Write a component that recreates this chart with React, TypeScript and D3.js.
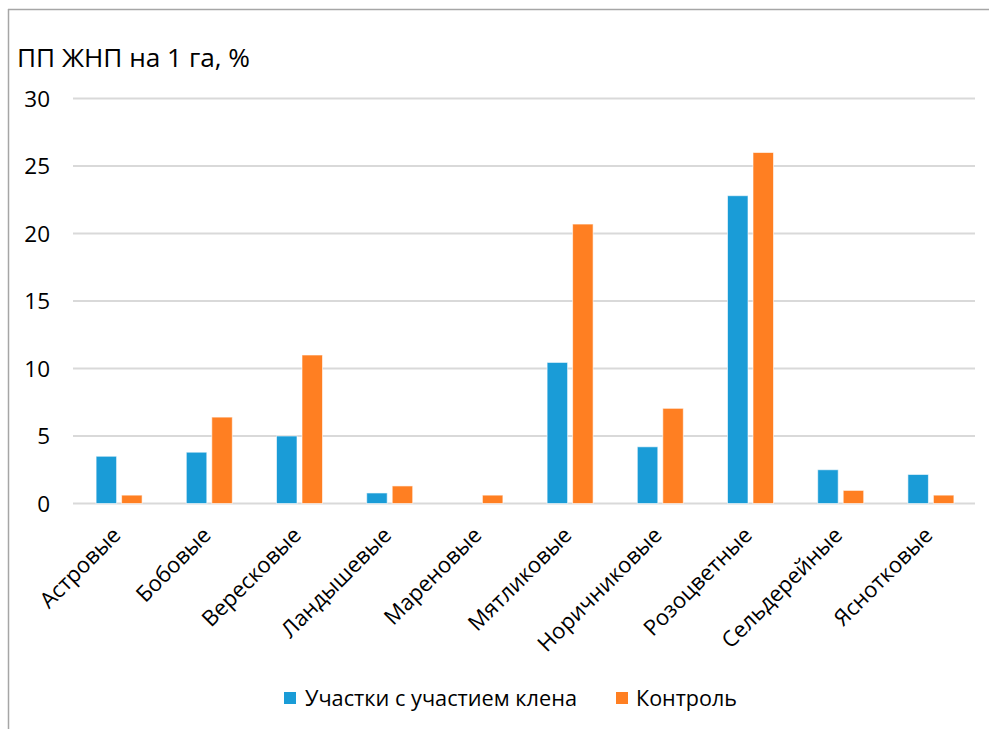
import React from "react";
import * as d3 from "d3";

const categories = ["Астровые", "Бобовые", "Вересковые", "Ландышевые", "Мареновые", "Мятликовые", "Норичниковые", "Розоцветные", "Сельдерейные", "Яснотковые"];
const maple = [3.5, 3.8, 5.0, 0.78, 0, 10.45, 4.2, 22.8, 2.5, 2.15];
const control = [0.62, 6.4, 11.0, 1.3, 0.62, 20.7, 7.05, 26.0, 0.97, 0.62];
const yTicks = [0, 5, 10, 15, 20, 25, 30];
const seriesNames = ["Участки с участием клена", "Контроль"];
const colors = ["#1A9CD7", "#FF7F22"];

const W = 989, H = 729;
const left = 73, right = 975, top = 98.5, bottom = 503.5;
const font = "'Open Sans', sans-serif";

export default function App() {
  const x = d3.scaleBand<string>().domain(categories).range([left, right]).paddingInner(0).paddingOuter(0);
  const y = d3.scaleLinear().domain([0, 30]).range([bottom, top]);
  const bw = 20.5, gap = 5;
  const series = [maple, control];
  return (
    <svg width={W} height={H} style={{ position: "absolute", left: 0, top: 0 }}>
      <rect x={0} y={0} width={W} height={H} fill="#fff" />
      <line x1={8.5} y1={9} x2={8.5} y2={H} stroke="#A6A6A6" strokeWidth={1.5} />
      <line x1={8} y1={9.5} x2={W} y2={9.5} stroke="#A6A6A6" strokeWidth={1.5} />
      <text x={17} y={67} fontFamily={font} fontSize={26} fill="#000" textLength={233} lengthAdjust="spacingAndGlyphs">ПП ЖНП на 1 га, %</text>
      {yTicks.map((t) => (
        <g key={t}>
          <line x1={left} x2={right} y1={y(t)} y2={y(t)} stroke="#D9D9D9" strokeWidth={2} />
          <text x={50} y={y(t) + 8} textAnchor="end" fontFamily={font} fontSize={22.5} fill="#000">{t}</text>
        </g>
      ))}
      {categories.map((c, i) => {
        const cx = x(c)! + x.bandwidth() / 2 + 1;
        return (
          <g key={c}>
            {series.map((s, k) => {
              const v = s[i];
              if (v <= 0) return null;
              const bx = k === 0 ? cx - gap / 2 - bw : cx + gap / 2;
              return (
                <rect key={k} x={bx} y={y(v)} width={bw} height={y(0) - y(v)} fill={colors[k]} stroke="#ffffff" strokeOpacity={0.6} strokeWidth={1} />
              );
            })}
            <text transform={`translate(${cx + 3},${bottom + 33}) rotate(-45)`} textAnchor="end" fontFamily={font} fontSize={22} fill="#000">{c}</text>
          </g>
        );
      })}
      <rect x={284} y={692} width={12} height={12} fill={colors[0]} />
      <text x={305} y={706} fontFamily={font} fontSize={22} fill="#000" textLength={272} lengthAdjust="spacingAndGlyphs">{seriesNames[0]}</text>
      <rect x={616} y={692} width={12} height={12} fill={colors[1]} />
      <text x={636} y={706} fontFamily={font} fontSize={22} fill="#000" textLength={101} lengthAdjust="spacingAndGlyphs">{seriesNames[1]}</text>
    </svg>
  );
}
